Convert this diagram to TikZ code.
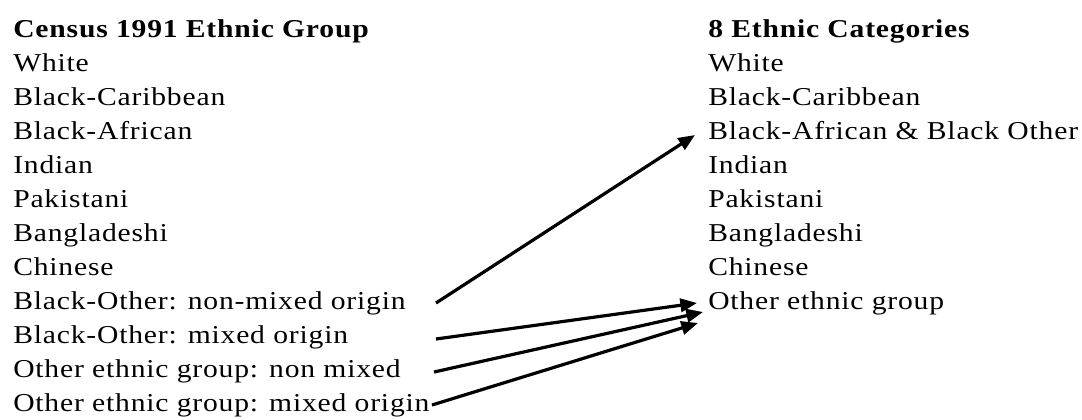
\documentclass[tikz,border=0pt]{standalone}
\usepackage{fontspec}
\setmainfont{Liberation Serif}[FakeStretch=1.15,LetterSpace=3.2]
\usetikzlibrary{arrows.meta,calc}
\begin{document}
\begin{tikzpicture}[x=0.75pt,y=-0.75pt,
  lbl/.style={anchor=base west,inner sep=0pt,font=\fontsize{19.3}{23}\selectfont},
  hdr/.style={lbl,font=\fontsize{19.3}{23}\selectfont\bfseries},
  arr/.style={line width=2.4pt,-{Triangle[length=12.5pt,width=10pt]}}]
\useasboundingbox (0,0) rectangle (1082,419);
\node[hdr] (l0) at (13,37) {Census 1991 Ethnic Group};
\node[lbl] (l1) at (13,71) {White};
\node[lbl] (l2) at (13,105) {Black-Caribbean};
\node[lbl] (l3) at (13,139) {Black-African};
\node[lbl] (l4) at (13,173) {Indian};
\node[lbl] (l5) at (13,207) {Pakistani};
\node[lbl] (l6) at (13,241) {Bangladeshi};
\node[lbl] (l7) at (13,275) {Chinese};
\node[lbl] (l8) at (13,309) {Black-Other: non-mixed origin};
\node[lbl] (l9) at (13,343) {Black-Other: mixed origin};
\node[lbl] (l10) at (13,377) {Other ethnic group: non mixed};
\node[lbl] (l11) at (13,411) {Other ethnic group: mixed origin};
\node[hdr] (r0) at (708,37) {8 Ethnic Categories};
\node[lbl] (r1) at (708,71) {White};
\node[lbl] (r2) at (708,105) {Black-Caribbean};
\node[lbl] (r3) at (708,139) {Black-African \& Black Other};
\node[lbl] (r4) at (708,173) {Indian};
\node[lbl] (r5) at (708,207) {Pakistani};
\node[lbl] (r6) at (708,241) {Bangladeshi};
\node[lbl] (r7) at (708,275) {Chinese};
\node[lbl] (r8) at (708,309) {Other ethnic group};
\draw[arr] ($(l8.base west)+(423,-6)$) -- ($(r3.base west)+(-13,-4)$);
\draw[arr] ($(l9.base west)+(423,-4)$) -- ($(r8.base west)+(-11,-6)$);
\draw[arr] ($(l10.base west)+(421,-5)$) -- ($(r8.base west)+(-5,3)$);
\draw[arr] ($(l11.base west)+(419,-6)$) -- ($(r8.base west)+(-10,14)$);
\end{tikzpicture}
\end{document}
